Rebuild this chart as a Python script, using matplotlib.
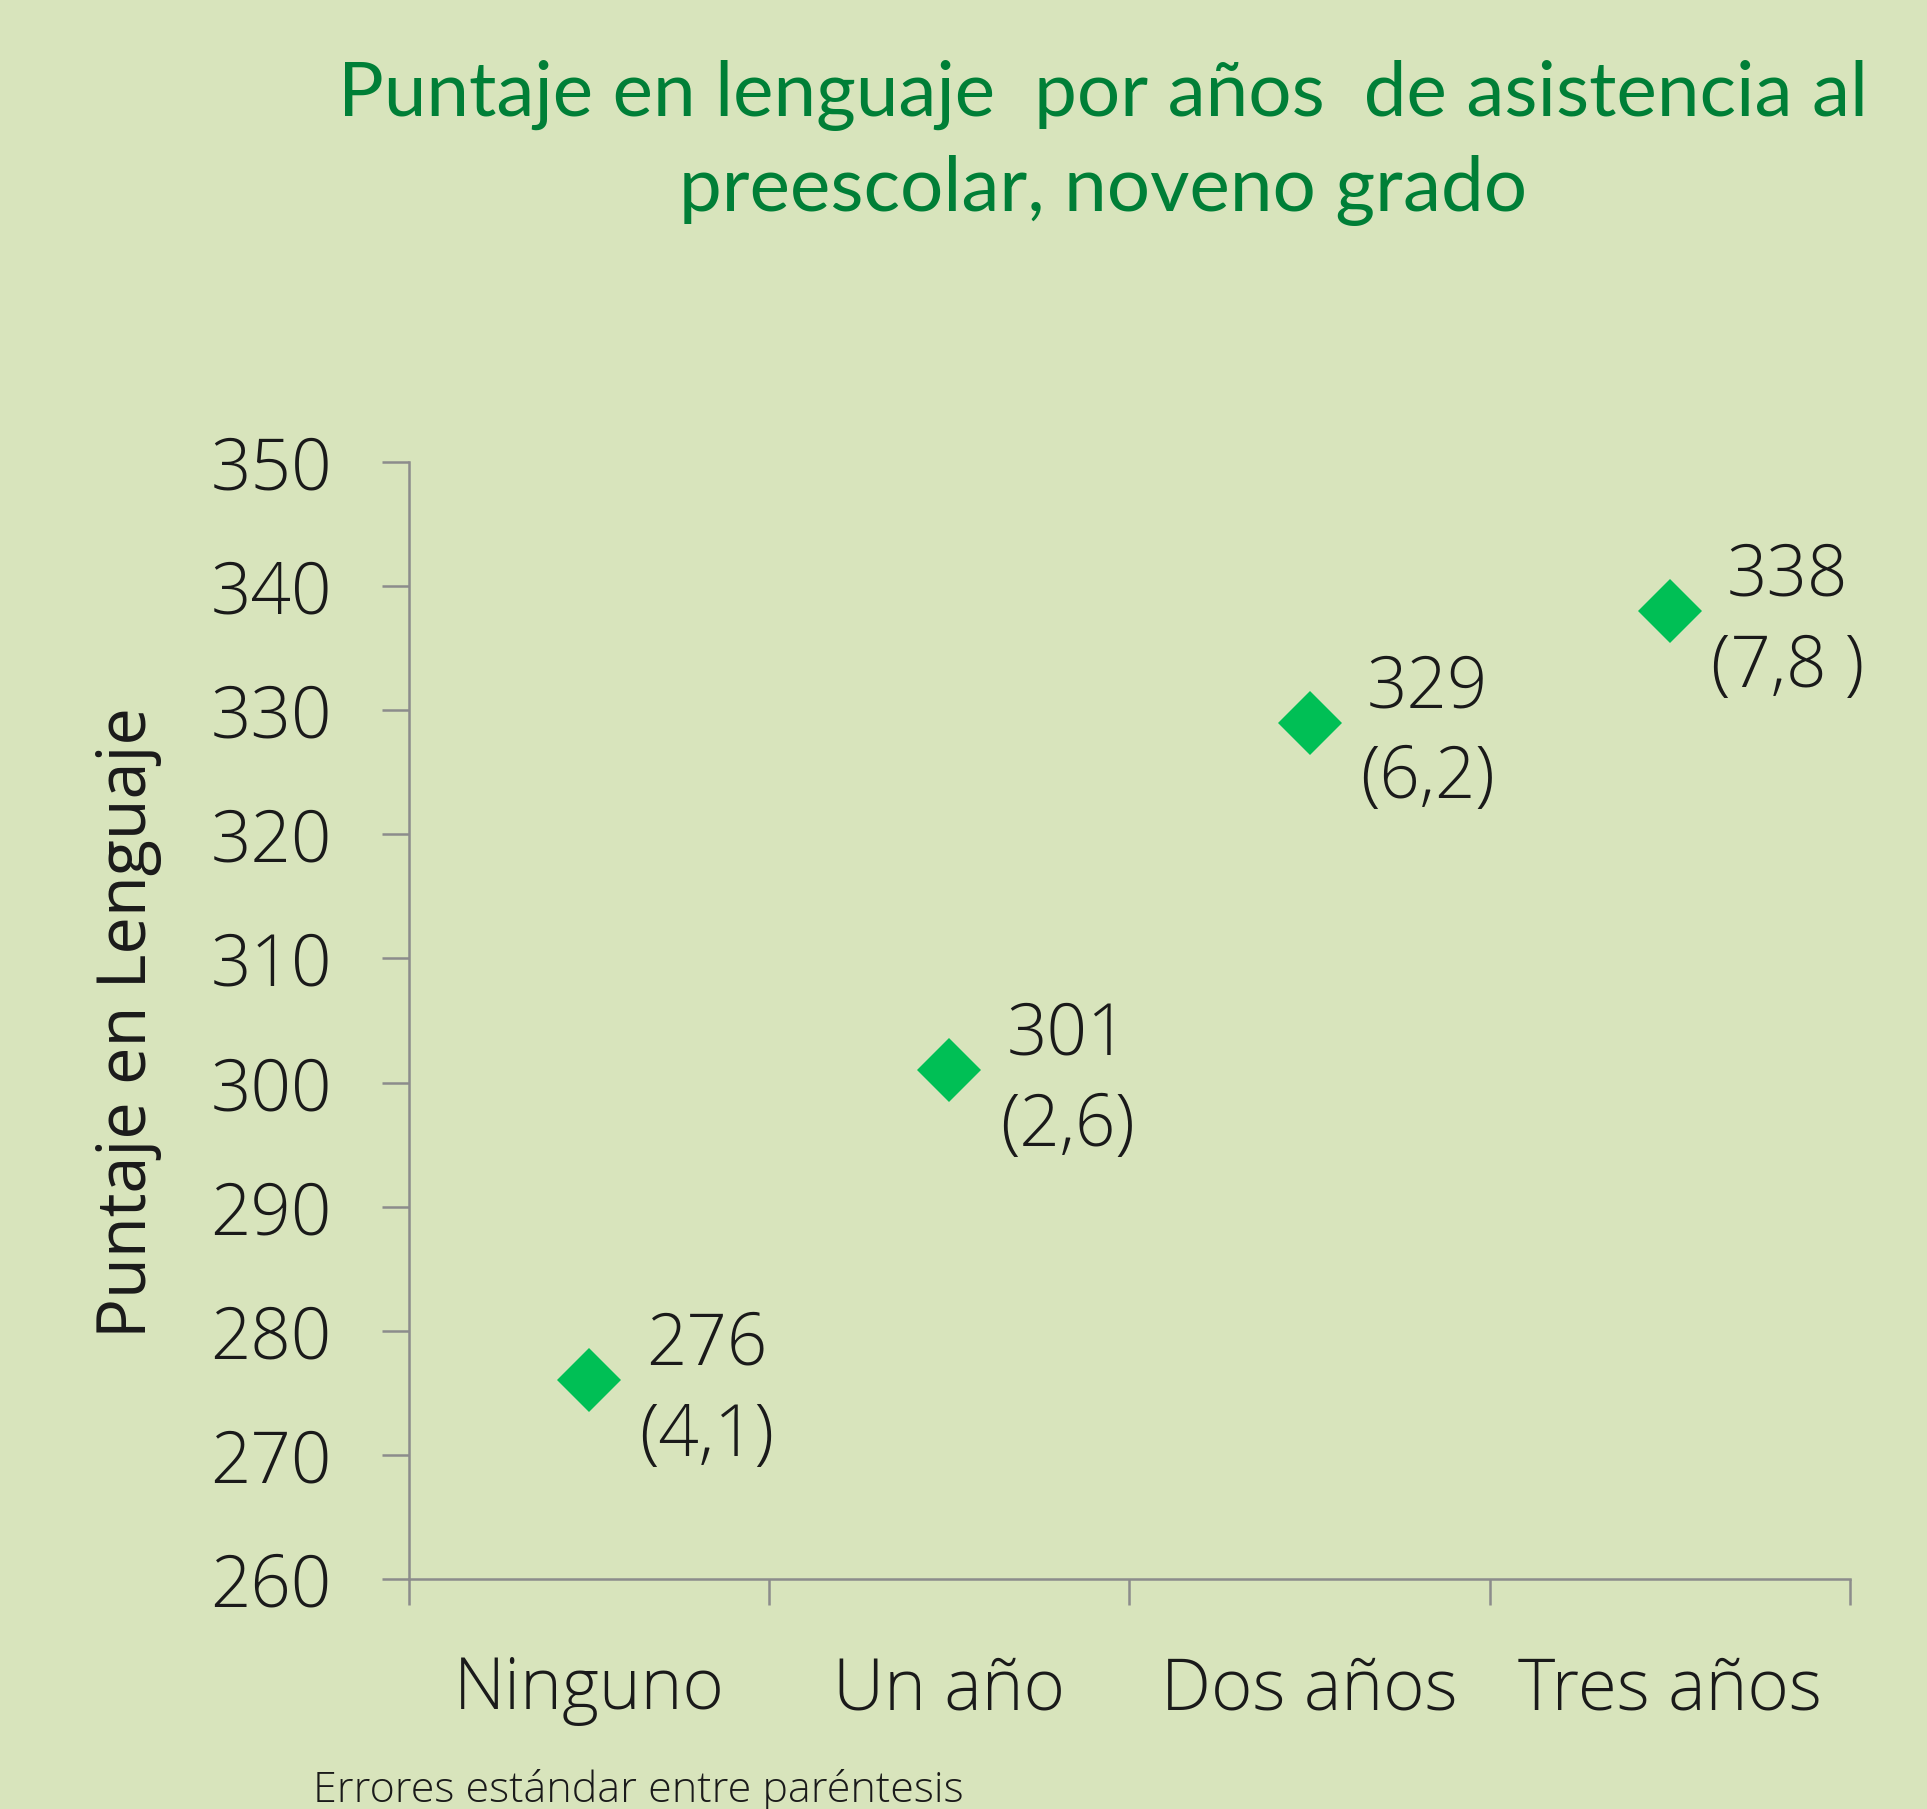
import matplotlib
matplotlib.use("Agg")
from matplotlib import pyplot as plt
import numpy as np

# datos
categorias = ["Ninguno", "Un año", "Dos años", "Tres años"]
puntajes = [276, 301, 329, 338]
errores = ["(4,1)", "(2,6)", "(6,2)", "(7,8 )"]
y_ticks = [260, 270, 280, 290, 300, 310, 320, 330, 340, 350]

fondo = "#D8E4BC"
verde = "#00BF55"
gris = "#8C8C8C"
texto = "#1A1A1A"

plt.rcParams['font.family'] = ['Open Sans', 'DejaVu Sans']

fig = plt.figure(figsize=(19.27, 18.09), dpi=100, facecolor=fondo)
ax = fig.add_axes([0.2122, 0.1271, 0.7478, 0.6175], facecolor=fondo)

x = np.arange(len(categorias)) + 0.5
ax.plot(x, puntajes, linestyle='none', marker='D', markersize=33,
        color=verde, markeredgewidth=0)

for xi, p, e in zip(x, puntajes, errores):
    ax.annotate("%d\n%s" % (p, e), (xi, p), xytext=(85, -8),
                textcoords='offset points', ha='center', va='center',
                multialignment='center', linespacing=1.35,
                fontsize=51, fontweight='light', color=texto)

ax.set_xlim(0, len(categorias))
ax.set_ylim(260, 350)
ax.set_yticks(y_ticks)
ax.set_xticks(np.arange(len(categorias) + 1))
ax.set_xticklabels([])
ax.set_xticks(x, minor=True)
ax.set_xticklabels(categorias, minor=True)

for s in ['top', 'right']:
    ax.spines[s].set_visible(False)
for s in ['left', 'bottom']:
    ax.spines[s].set_color(gris)
    ax.spines[s].set_linewidth(1.8)

ax.tick_params(axis='y', which='major', direction='out', length=19.5,
               width=1.8, color=gris, pad=36, labelsize=51,
               labelcolor=texto)
ax.tick_params(axis='x', which='major', direction='out', length=19,
               width=1.8, color=gris)
ax.tick_params(axis='x', which='minor', length=0, pad=54, labelsize=51,
               labelcolor=texto)
for lab in ax.get_yticklabels() + ax.get_xticklabels(minor=True):
    lab.set_fontweight('light')

fig.text(0.0664, 0.4345, "Puntaje en Lenguaje", rotation=90, ha='center',
         va='center', fontsize=48, color=texto)

fig.text(0.5724, 0.921,
         "Puntaje en lenguaje  por años  de asistencia al\npreescolar, noveno grado",
         ha='center', va='center', fontsize=55, color="#007F37",
         linespacing=1.42, family=['Lato', 'DejaVu Sans'])

fig.text(0.1625, 0.010, "Errores estándar entre paréntesis", ha='left',
         va='center', fontsize=31, fontweight='light', color=texto)

fig.savefig("out.png", dpi=100, facecolor=fondo)
